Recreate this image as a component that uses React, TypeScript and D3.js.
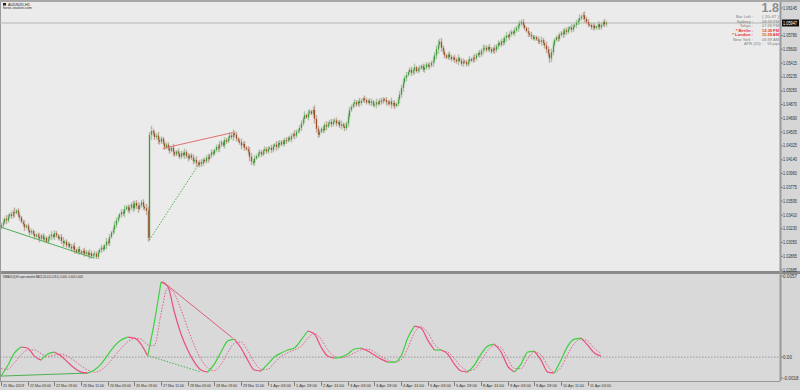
import * as d3 from "d3";
import React from "react";

// closes in pips above 1.02000, one per H1 bar
const closePips = [
  128, 131, 136, 134, 139, 142, 140, 145, 144, 147,
  141, 138, 132, 129, 125, 127, 121, 118, 120, 116,
  113, 115, 112, 110, 114, 109, 111, 106, 110, 113,
  115, 112, 117, 114, 110, 112, 107, 104, 106, 101,
  103, 99, 97, 100, 95, 92, 96, 93, 91, 94,
  90, 92, 88, 91, 87, 89, 90, 86, 92, 95,
  98, 96, 101, 106, 104, 112, 118, 122, 128, 134,
  138, 142, 145, 143, 149, 152, 147, 151, 155, 150,
  157, 153, 149, 154, 158, 152, 150, 147, 111, 247,
  252, 249, 244, 246, 240, 238, 242, 236, 231, 234,
  229, 226, 230, 224, 221, 225, 222, 218, 223, 220,
  224, 219, 216, 220, 217, 212, 214, 210, 207, 211,
  209, 214, 212, 217, 215, 220, 224, 222, 227, 231,
  229, 234, 237, 233, 240, 238, 243, 246, 244, 249,
  247, 242, 239, 237, 233, 235, 230, 228, 225, 218,
  212, 210, 216, 219, 222, 224, 221, 226, 228, 225,
  229, 230, 227, 232, 234, 231, 236, 234, 238, 235,
  240, 239, 243, 241, 245, 248, 246, 251, 253, 256,
  262, 268, 273, 270, 276, 278, 275, 280, 268, 255,
  247, 251, 255, 253, 260, 258, 262, 264, 261, 265,
  266, 262, 264, 259, 261, 258, 256, 262, 271, 280,
  284, 288, 290, 287, 291, 289, 292, 295, 293, 290,
  292, 289, 291, 286, 287, 290, 288, 292, 291, 294,
  293, 290, 288, 291, 287, 289, 285, 288, 294, 300,
  309, 316, 322, 326, 330, 333, 329, 332, 336, 331,
  334, 335, 338, 333, 336, 340, 337, 339, 342, 345,
  352, 360, 366, 370, 362, 356, 352, 349, 353, 350,
  347, 349, 346, 344, 348, 345, 341, 344, 343, 340,
  344, 347, 345, 349, 348, 352, 355, 353, 358, 361,
  362, 359, 363, 360, 357, 361, 359, 364, 368, 366,
  371, 369, 375, 378, 376, 380, 383, 381, 385, 388,
  391, 394, 396, 392, 388, 384, 381, 379, 377, 374,
  376, 373, 371, 370, 372, 368, 365, 360, 354, 348,
  356, 366, 372, 376, 374, 379, 382, 380, 385, 383,
  387, 389, 386, 390, 392, 395, 398, 401, 403, 405,
  400, 396, 393, 392, 389, 391, 388, 390, 393, 389,
  392, 396, 393, 394.7,
];

const wickPips = [
  3, 4, 2, 5, 3, 2, 4, 3, 6, 2, 3, 4, 2, 3, 5, 2, 3, 4, 3, 2,
  4, 2, 3, 5, 2, 3, 4, 2, 3, 3, 5, 2, 4, 3, 2, 3, 4, 5, 2, 3,
  3, 2, 4, 3, 5, 2, 3, 4, 2, 3, 4, 3, 2, 5, 3, 2, 4, 3, 3, 2,
  4, 3, 2, 5, 3, 4, 2, 3, 5, 4, 3, 2, 4, 3, 5, 2, 3, 4, 3, 5,
  3, 4, 5, 2, 3, 4, 3, 6, 5, 4, 7, 3, 4, 3, 5, 4, 3, 2, 4, 3,
  3, 4, 2, 5, 3, 2, 4, 3, 3, 2, 5, 3, 4, 2, 3, 4, 3, 5, 2, 3,
  4, 3, 2, 3, 5, 2, 4, 3, 2, 3, 4, 5, 3, 2, 4, 3, 2, 4, 3, 5,
  3, 4, 2, 3, 5, 3, 4, 2, 4, 6, 5, 3, 4, 2, 3, 4, 3, 2, 4, 3,
  3, 2, 4, 3, 2, 5, 3, 4, 2, 3, 3, 4, 2, 3, 4, 2, 5, 3, 2, 4,
  4, 3, 5, 2, 4, 3, 2, 4, 6, 5, 4, 3, 2, 4, 3, 5, 2, 3, 4, 3,
  3, 4, 2, 3, 5, 2, 4, 3, 5, 4, 3, 2, 4, 3, 2, 5, 3, 2, 4, 3,
  2, 3, 4, 2, 3, 5, 2, 3, 4, 3, 2, 4, 3, 2, 5, 3, 4, 2, 3, 5,
  4, 5, 3, 4, 2, 3, 4, 3, 5, 2, 3, 4, 2, 3, 4, 3, 2, 4, 3, 5,
  4, 5, 6, 4, 5, 3, 4, 2, 3, 4, 3, 2, 4, 3, 5, 2, 3, 4, 2, 3,
  3, 4, 2, 3, 5, 3, 2, 4, 3, 5, 4, 3, 2, 4, 3, 2, 5, 3, 4, 2,
  3, 4, 3, 5, 2, 4, 3, 2, 4, 3, 5, 4, 3, 4, 3, 2, 5, 3, 4, 2,
  3, 2, 4, 3, 5, 3, 4, 5, 4, 6, 5, 4, 3, 2, 4, 3, 2, 5, 3, 4,
  3, 2, 4, 3, 2, 4, 3, 5, 3, 4, 5, 3, 4, 2, 3, 4, 3, 2, 4, 3,
  3, 2, 4, 3,
];

const priceTicks = [
  "1.06145", "1.05965", "1.05780", "1.05600", "1.05415", "1.05235", "1.05050",
  "1.04870", "1.04690", "1.04505", "1.04325", "1.04140", "1.03960", "1.03775",
  "1.03595", "1.03410", "1.03230", "1.03050", "1.02865", "1.02685",
];

const timeLabels = [
  "21 Mar 2019", "22 Mar 03:00", "22 Mar 19:00", "25 Mar 11:00", "26 Mar 03:00",
  "26 Mar 19:00", "27 Mar 11:00", "28 Mar 03:00", "28 Mar 19:00", "29 Mar 11:00",
  "1 Apr 03:00", "1 Apr 19:00", "2 Apr 11:00", "3 Apr 03:00", "3 Apr 19:00",
  "4 Apr 11:00", "5 Apr 03:00", "5 Apr 19:00", "8 Apr 11:00", "9 Apr 03:00",
  "9 Apr 19:00", "10 Apr 11:00", "11 Apr 03:00",
];

// MACD, units of 0.0001, one value every 4 bars
const macdMain = [
  -13.2, -6.0, 2.8, 7.0, 6.3, 0.7, -2.1, 2.1, 3.5, 0.7,
  -3.5, -7.6, -10.4, -11.1, -9.0, -4.9, 1.4, 7.6, 11.8, 13.9,
  13.2, 9.0, 0.7, 24.3, 52.1, 49.3, 31.3, 16.0, 4.9, -3.5,
  -9.0, -10.4, -4.9, 3.5, 11.1, 12.5, 6.3, -2.1, -9.0, -9.7,
  -4.9, 0, 2.8, 4.9, 6.3, 11.8, 18.1, 16.0, 7.0, 0.7,
  -0.7, 0, 2.1, 5.6, 6.3, 4.2, 1.4, -1.4, -3.5, -3.5,
  0.7, 13.2, 21.5, 20.2, 11.8, 4.9, 4.9, 2.1, -4.9, -9.7,
  -10.4, -5.6, 2.1, 7.6, 9.0, 3.5, -6.3, -10.4, -4.9, 3.5,
  4.2, -2.1, -10.4, -11.1, -2.1, 7.6, 12.5, 13.2, 8.3, 2.8,
  0.7,
];
const macdSignal = [
  -8.0, -8.5, -4.0, 1.5, 5.0, 5.0, 2.5, 0.5, 1.5, 2.0,
  0.5, -2.5, -6.0, -9.0, -10.5, -9.0, -5.0, 0.5, 6.0, 10.5,
  13.0, 12.5, 8.5, 8.0, 30.0, 48.0, 44.0, 33.0, 20.0, 8.0,
  -1.5, -7.5, -9.5, -5.0, 3.0, 9.5, 10.5, 4.5, -3.5, -8.5,
  -8.5, -4.0, 0.5, 3.0, 5.0, 7.5, 13.0, 16.5, 12.5, 5.0,
  0.5, -0.5, 0.5, 3.0, 5.0, 5.5, 3.5, 0.5, -2.0, -3.5,
  -2.0, 6.0, 17.0, 21.0, 17.0, 9.0, 5.0, 3.5, -1.0, -6.5,
  -9.5, -8.5, -2.5, 4.5, 8.0, 6.5, -1.0, -8.0, -8.0, -1.0,
  3.5, 1.5, -6.0, -10.5, -7.0, 2.0, 9.5, 12.5, 11.0, 6.0,
  2.5,
];
const macdStep = 4;

const macdTickValues = [0.0057, 0, -0.0018];
const macdTickText = ["0.0057", "0.00", "-0.0018"];

// divergence lines: [bar, value] pairs; hidden ones are dotted
const priceDivs = [
  { a: [0, 125], b: [56, 84], bull: true, hidden: false },
  { a: [97, 229], b: [139, 250], bull: false, hidden: false },
  { a: [89, 108], b: [118, 206], bull: true, hidden: true },
];
const macdDivs = [
  { a: [0, -13.2], b: [52, -11.1], bull: true, hidden: false },
  { a: [97, 52.5], b: [139, 13.2], bull: false, hidden: false },
  { a: [89, 0.7], b: [120, -10.4], bull: true, hidden: true },
];

const infoRows = [
  ["Bar Left :", "( 20:47 )", false],
  ["Sydney :", "08:39 PM", false],
  ["Tokyo :", "07:39 PM", false],
  ["* Berlin :", "12:39 PM", true],
  ["* London :", "11:39 AM", true],
  ["New York :", "06:39 AM", false],
];

const FONT = "'Liberation Sans', Arial, sans-serif";

export default function App() {
  const plotRight = 780;
  const barStep = 26.67 / 16;
  const x = d3.scaleLinear().domain([0, 1]).range([1, 1 + barStep]);
  const yP = d3.scaleLinear().domain([1.02685, 1.06145]).range([270, 8]);
  const yM = d3.scaleLinear().domain([-0.0018, 0.0057]).range([383, 275]);
  const px = (p: number) => 1.02 + p / 10000;

  const candles = closePips.map((c, i) => {
    const o = i > 0 ? closePips[i - 1] : c - 3;
    const top = Math.max(o, c);
    const bot = Math.min(o, c);
    const w = wickPips[i] ?? 3;
    return { i, o, c, top, bot, hi: top + w, lo: bot - w };
  });

  const macdPts = macdMain.map((v, k) => [k * macdStep, v / 10000] as [number, number]);
  const sigPts = macdSignal.map((v, k) => [k * macdStep, v / 10000] as [number, number]);

  // split MACD into rising / falling runs
  const runs: { up: boolean; pts: [number, number][] }[] = [];
  for (let k = 1; k < macdPts.length; k++) {
    const up = macdPts[k][1] >= macdPts[k - 1][1];
    const last = runs[runs.length - 1];
    if (last && last.up === up) last.pts.push(macdPts[k]);
    else runs.push({ up, pts: [macdPts[k - 1], macdPts[k]] });
  }

  const lineM = d3
    .line<[number, number]>()
    .x((d) => x(d[0]))
    .y((d) => yM(d[1]))
    .curve(d3.curveMonotoneX);

  const lastClose = px(closePips[closePips.length - 1]);

  return (
    <svg
      width={800}
      height={390}
      style={{ position: "absolute", left: 0, top: 0, fontFamily: FONT }}
    >
      <defs>
        <clipPath id="mainClip">
          <rect x={0} y={2} width={plotRight} height={269} />
        </clipPath>
        <clipPath id="indClip">
          <rect x={0} y={274} width={plotRight} height={107} />
        </clipPath>
      </defs>

      {/* backgrounds */}
      <rect x={0} y={0} width={800} height={390} fill="#d6d6d6" />
      <rect x={0} y={2} width={plotRight} height={269} fill="#ebebeb" />
      <rect x={0} y={274} width={plotRight} height={107} fill="#d9d9d9" />
      <rect x={0} y={0} width={800} height={2} fill="#a8a8a8" />
      <rect x={0} y={271} width={800} height={3} fill="#8a8a8a" />
      <line x1={plotRight + 0.5} x2={plotRight + 0.5} y1={2} y2={381} stroke="#9a9a9a" strokeWidth={2} />
      <line x1={0} x2={plotRight} y1={381.5} y2={381.5} stroke="#9a9a9a" />
      <line x1={0.5} x2={0.5} y1={2} y2={381} stroke="#9a9a9a" />

      {/* bid line */}
      <line
        x1={0}
        x2={plotRight}
        y1={yP(lastClose)}
        y2={yP(lastClose)}
        stroke="#b4b4b4"
        strokeWidth={1}
      />

      {/* candles */}
      <g clipPath="url(#mainClip)">
        {candles.map((d) => {
          const cx = Math.round(x(d.i)) + 0.5;
          const up = d.c >= d.o;
          const yt = yP(px(d.top));
          const yb = yP(px(d.bot));
          return (
            <g key={d.i}>
              <line
                x1={cx}
                x2={cx}
                y1={yP(px(d.hi))}
                y2={yP(px(d.lo))}
                stroke={up ? "#a8c4a2" : "#c4aa9c"}
                strokeWidth={1.4}
              />
              <rect
                x={cx - 0.6}
                y={yt}
                width={1.2}
                height={Math.max(1, yb - yt)}
                fill={up ? "#3f9a3a" : "#9a4e2a"}
              />
            </g>
          );
        })}
        {priceDivs.map((d, j) => (
          <line
            key={j}
            x1={x(d.a[0])}
            y1={yP(px(d.a[1]))}
            x2={x(d.b[0])}
            y2={yP(px(d.b[1]))}
            stroke={d.bull ? "#4caf50" : "#e07070"}
            strokeWidth={1}
            strokeDasharray={d.hidden ? "1.5 1.5" : undefined}
          />
        ))}
      </g>

      {/* price axis */}
      {priceTicks.map((t, j) => {
        const yy = yP(+t);
        if (j === 1) return null;
        return (
          <g key={t}>
            <line x1={plotRight + 1} x2={plotRight + 3} y1={yy} y2={yy} stroke="#555" strokeWidth={0.6} />
            <text x={783} y={yy + 1.5} fontSize={4.6} fill="#333" textLength={14} lengthAdjust="spacingAndGlyphs">
              {t}
            </text>
          </g>
        );
      })}
      <rect x={782} y={yP(lastClose) - 3.5} width={17} height={7} fill="#111" />
      <text
        x={783}
        y={yP(lastClose) + 1.6}
        fontSize={4.6}
        fill="#fff"
        textLength={14}
        lengthAdjust="spacingAndGlyphs"
      >
        {lastClose.toFixed(5)}
      </text>

      {/* top-left labels */}
      <rect x={3} y={3} width={3} height={2.5} fill="#222" />
      <text x={8} y={5.6} fontSize={3.8} fill="#222" textLength={22} lengthAdjust="spacingAndGlyphs">
        AUDNZD,H1
      </text>
      <text x={3} y={9.2} fontSize={3.6} fill="#333" textLength={29} lengthAdjust="spacingAndGlyphs">
        forex-station.com
      </text>

      {/* info panel */}
      <text x={779} y={11.6} fontSize={12.5} fontWeight="bold" fill="#8c8c8c" textAnchor="end">
        1.8
      </text>
      {infoRows.map((r, j) => {
        const yy = 18.4 + j * 4.5;
        const col = r[2] ? "#e53030" : "#808080";
        return (
          <g key={j} fontSize={4.2} fill={col} fontWeight={r[2] ? "bold" : "normal"}>
            <text x={753} y={yy} textAnchor="end">
              {r[0] as string}
            </text>
            <text x={762} y={yy} textLength={17} lengthAdjust="spacingAndGlyphs">
              {r[1] as string}
            </text>
          </g>
        );
      })}
      <g fontSize={4.2} fill="#808080">
        <text x={763} y={45.4} textAnchor="end">
          ATR (20) :
        </text>
        <text x={767} y={45.4} textLength={13} lengthAdjust="spacingAndGlyphs">
          18 pips
        </text>
      </g>

      {/* indicator */}
      <text x={3} y={277.5} fontSize={3.6} fill="#222" textLength={80} lengthAdjust="spacingAndGlyphs">
        SSMACD(3),H1 super smoother MACD (24.0,52.0,18.0) -0.0001 -0.0001 0.0002
      </text>
      <line
        x1={0}
        x2={plotRight}
        y1={yM(0)}
        y2={yM(0)}
        stroke="#8a8a8a"
        strokeWidth={0.8}
        strokeDasharray="1.5 1.5"
      />
      <g clipPath="url(#indClip)">
        {macdDivs.map((d, j) => (
          <line
            key={j}
            x1={x(d.a[0])}
            y1={yM(d.a[1] / 10000)}
            x2={x(d.b[0])}
            y2={yM(d.b[1] / 10000)}
            stroke={d.bull ? "#4caf50" : "#e0607a"}
            strokeWidth={1}
            strokeDasharray={d.hidden ? "1.5 1.5" : undefined}
          />
        ))}
        <path
          d={lineM(sigPts) ?? ""}
          fill="none"
          stroke="#e0608a"
          strokeWidth={1}
          strokeDasharray="1.5 1.5"
        />
        {runs.map((r, j) => (
          <path
            key={j}
            d={lineM(r.pts) ?? ""}
            fill="none"
            stroke={r.up ? "#3fcf3f" : "#e8507a"}
            strokeWidth={1.2}
          />
        ))}
      </g>
      {macdTickValues.map((v, j) => {
        const yy = Math.min(Math.max(yM(v), 276), 378);
        return (
          <g key={j}>
            <line x1={plotRight + 1} x2={plotRight + 3} y1={yy} y2={yy} stroke="#555" strokeWidth={0.6} />
            <text x={783} y={yy + 1.5} fontSize={4.6} fill="#333">
              {macdTickText[j]}
            </text>
          </g>
        );
      })}

      {/* time axis */}
      {timeLabels.map((t, k) => {
        const xx = Math.round(x(k * 16)) + 0.5;
        return (
          <g key={t}>
            <line x1={xx} x2={xx} y1={382} y2={386} stroke="#444" strokeWidth={0.6} />
            <text x={xx + 1.5} y={386.5} fontSize={4.2} fill="#333" textLength={21} lengthAdjust="spacingAndGlyphs">
              {t}
            </text>
          </g>
        );
      })}
    </svg>
  );
}
